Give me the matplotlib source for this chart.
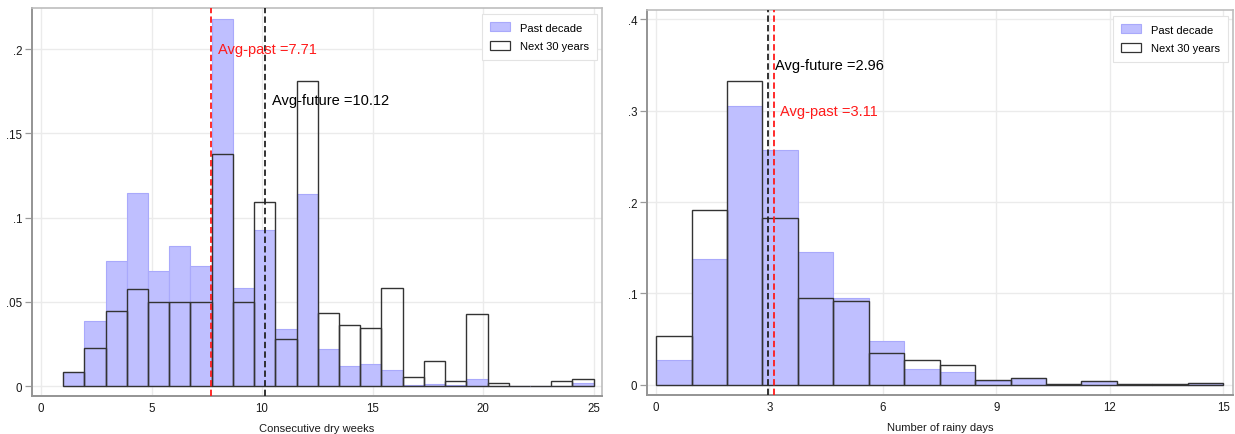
import numpy as np
import matplotlib
matplotlib.use("Agg")
import matplotlib.pyplot as plt
from matplotlib.patches import Patch

plt.rcParams['font.family'] = ['Liberation Sans', 'DejaVu Sans']

# ---------------- data ----------------
# Left panel: consecutive dry weeks (25 bins from 1 to 25)
dry_start, dry_stop, dry_nbins = 1, 25, 25
dry_past = [0.0083, 0.0389, 0.0741, 0.1146, 0.0682, 0.0830, 0.0713, 0.2180,
            0.0581, 0.0929, 0.0340, 0.1140, 0.0221, 0.0120, 0.0132, 0.0097,
            0.0010, 0.0014, 0.0005, 0.0041, 0.0000, 0.0000, 0.0000, 0.0000,
            0.0020]
dry_future = [0.0083, 0.0225, 0.0445, 0.0575, 0.0498, 0.0498, 0.0498, 0.1380,
              0.0498, 0.1093, 0.0279, 0.1810, 0.0435, 0.0362, 0.0344, 0.0581,
              0.0053, 0.0150, 0.0032, 0.0429, 0.0018, 0.0004, 0.0000, 0.0032,
              0.0045]
dry_avg_past, dry_avg_future = 7.71, 10.12

# Right panel: number of rainy days (16 bins from 0 to 15)
rain_start, rain_stop, rain_nbins = 0, 15, 16
rain_past = [0.027, 0.138, 0.305, 0.257, 0.1456, 0.0953, 0.0478, 0.017,
             0.0139, 0.0040, 0.0080, 0.0010, 0.0044, 0.0007, 0.0015, 0.0022]
rain_future = [0.054, 0.1916, 0.332, 0.183, 0.0956, 0.0916, 0.0354, 0.027,
               0.0223, 0.0058, 0.0075, 0.0010, 0.0040, 0.0007, 0.0015, 0.0022]
rain_avg_past, rain_avg_future = 3.11, 2.96

dry_xticks = [0, 5, 10, 15, 20, 25]
dry_yticks = [0, 0.05, 0.1, 0.15, 0.2]
dry_yticklabels = ['0', '.05', '.1', '.15', '.2']
rain_xticks = [0, 3, 6, 9, 12, 15]
rain_yticks = [0, 0.1, 0.2, 0.3, 0.4]
rain_yticklabels = ['0', '.1', '.2', '.3', '.4']

legend_labels = ['Past decade', 'Next 30 years']
xlabels = ['Consecutive dry weeks', 'Number of rainy days']

# ---------------- style ----------------
BLUE_FACE = '#bfbfff'
BLUE_EDGE = '#a9a9fb'
BAR_EDGE = '#333333'
RED = '#ff1a1a'
GRID = '#ebebeb'
TEXT = '#1a1a1a'

W, H = 1235, 435
fig = plt.figure(figsize=(W / 100, H / 100), dpi=100)


def px_axes(l, t, r, b):
    return fig.add_axes([l / W, 1 - b / H, (r - l) / W, (b - t) / H])


def draw_panel(ax, start, stop, nbins, past, future, avg_past, avg_future,
               text_y_past, text_y_future, xticks, yticks, yticklabels,
               xlim, ylim, xlabel):
    edges = np.linspace(start, stop, nbins + 1)
    width = edges[1] - edges[0]
    ax.bar(edges[:-1], past, width=width, align='edge', color=BLUE_FACE,
           edgecolor=BLUE_EDGE, linewidth=0.8, zorder=2)
    ax.bar(edges[:-1], future, width=width, align='edge', fill=False,
           edgecolor=BAR_EDGE, linewidth=1.0, zorder=3)
    ax.axvline(avg_past, color=RED, ls=(0, (3.5, 1.8)), lw=1.3, zorder=4)
    ax.axvline(avg_future, color='#222222', ls=(0, (3.5, 1.8)), lw=1.3, zorder=4)
    ax.annotate(f'Avg-past ={avg_past:.2f}', (avg_past, text_y_past),
                xytext=(4.5, 0), textcoords='offset points', va='center',
                ha='left', color=RED, fontsize=10.5, zorder=5)
    ax.annotate(f'Avg-future ={avg_future:.2f}', (avg_future, text_y_future),
                xytext=(5, 0), textcoords='offset points', va='center',
                ha='left', color='black', fontsize=10.5, zorder=5)
    ax.set_xlim(*xlim)
    ax.set_ylim(*ylim)
    ax.set_xticks(xticks)
    ax.set_xticklabels([str(v) for v in xticks])
    ax.set_yticks(yticks)
    ax.set_yticklabels(yticklabels)
    ax.grid(True, color=GRID, lw=1.0, zorder=0)
    ax.set_axisbelow(True)
    ax.tick_params(axis='x', length=0, pad=4, labelsize=8.3, labelcolor=TEXT)
    ax.tick_params(axis='y', length=5, width=0.9, color='#9a9a9a', pad=2,
                   labelsize=8.3, labelcolor=TEXT)
    for side in ['top', 'right']:
        ax.spines[side].set_color('#bdbdbd')
        ax.spines[side].set_linewidth(1.2)
    for side in ['left', 'bottom']:
        ax.spines[side].set_color('#949494')
        ax.spines[side].set_linewidth(1.4)
    ax.set_xlabel(xlabel, fontsize=8, color=TEXT, labelpad=7)
    handles = [Patch(facecolor=BLUE_FACE, edgecolor=BLUE_EDGE, lw=0.8),
               Patch(facecolor='white', edgecolor=BAR_EDGE, lw=0.9)]
    leg = ax.legend(handles, legend_labels, loc='upper right', fontsize=8,
                    fancybox=False, framealpha=1, edgecolor='#e3e3e3',
                    handlelength=1.8, handleheight=0.9, handletextpad=0.9,
                    labelspacing=0.75, borderpad=0.75, borderaxespad=0,
                    bbox_to_anchor=(0.992, 0.985))
    leg.get_frame().set_linewidth(0.8)
    leg.set_zorder(6)


ax1 = px_axes(32, 9, 602, 397)
draw_panel(ax1, dry_start, dry_stop, dry_nbins, dry_past, dry_future,
           dry_avg_past, dry_avg_future, 0.2, 0.17,
           dry_xticks, dry_yticks, dry_yticklabels,
           (-0.41, 25.38), (-0.0058, 0.2244), xlabels[0])

ax2 = px_axes(647, 11, 1233, 396)
draw_panel(ax2, rain_start, rain_stop, rain_nbins, rain_past, rain_future,
           rain_avg_past, rain_avg_future, 0.30, 0.35,
           rain_xticks, rain_yticks, rain_yticklabels,
           (-0.24, 15.26), (-0.011, 0.410), xlabels[1])

fig.savefig('out.png', dpi=100)
